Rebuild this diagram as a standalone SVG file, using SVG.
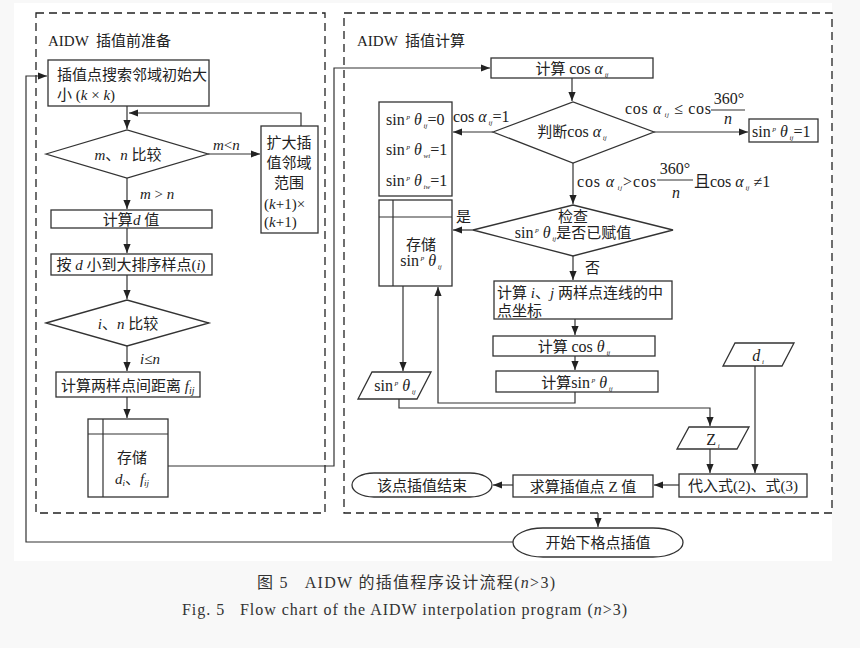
<svg xmlns="http://www.w3.org/2000/svg" width="860" height="648" viewBox="0 0 860 648" xml:space="preserve">
<defs>
<marker id="ah" viewBox="0 0 10 10" refX="10" refY="5" markerWidth="9" markerHeight="9" markerUnits="userSpaceOnUse" orient="auto"><path d="M0,1 L10,5 L0,9 Z" fill="#222"/></marker>
<style>
.b{fill:#fff;stroke:#333;stroke-width:1.3}
.l{fill:none;stroke:#333;stroke-width:1.2}
.a{fill:none;stroke:#333;stroke-width:1.2;marker-end:url(#ah)}
.dash{fill:none;stroke:#222;stroke-width:1.3;stroke-dasharray:8,5}
text{font-family:"Liberation Serif","Noto Sans CJK SC",serif;font-size:15px;fill:#222;white-space:pre}
.c{text-anchor:middle}
.i{font-style:italic}
.m{font-size:16px}
.s{font-size:7px;font-style:italic}
.cap{font-size:16px;fill:#333}
</style>
</defs>
<rect x="0" y="0" width="860" height="648" fill="#f8f8f8"/>
<rect x="14" y="3" width="818" height="558" fill="#fff"/>

<g id="panels">
<rect class="dash" x="36" y="13" width="289" height="500"/>
<text x="48" y="46">AIDW  插值前准备</text>
<rect class="dash" x="344" y="13" width="488" height="500"/>
<text x="357" y="46">AIDW  插值计算</text>
</g>

<g id="connectors">
<path class="a" d="M127,106 V129"/>
<path class="a" d="M301,126 V113 H129"/>
<path class="a" d="M208,154 H260"/>
<path class="a" d="M127,178 V209"/>
<path class="a" d="M127,228 V253"/>
<path class="a" d="M127,275 V299"/>
<path class="a" d="M127,346 V371"/>
<path class="a" d="M127,397 V418"/>
<path class="a" d="M168,466 H334 V68 H490"/>
<path class="a" d="M572,78 V101"/>
<path class="a" d="M493,132 H453"/>
<path class="a" d="M654,132 H748"/>
<path class="a" d="M573,163 V204"/>
<path class="a" d="M473,230 H453"/>
<path class="a" d="M573,256 V280"/>
<path class="a" d="M575,319 V335"/>
<path class="a" d="M575,356 V370"/>
<path class="a" d="M575,392 V403 H438 V287"/>
<path class="a" d="M403,286 V371"/>
<path class="a" d="M399,399 V408 H710 V426"/>
<path class="a" d="M710,449 V473"/>
<path class="a" d="M755,366 V473"/>
<path class="a" d="M679,485 H654"/>
<path class="a" d="M513,485 H493"/>
<path class="a" d="M598,513 V527"/>
<path class="a" d="M513,542 H26 V76 H47"/>
</g>

<g id="n1">
<rect class="b" x="48" y="60" width="161" height="46"/>
<text x="57" y="80">插值点搜索邻域初始大</text>
<text x="57" y="100">小 (<tspan class="i">k</tspan> × <tspan class="i">k</tspan>)</text>
</g>
<g id="n2">
<polygon class="b" points="46,154 127,130 208,154 127,178"/>
<text class="c" x="128" y="160"><tspan class="i">m</tspan>、<tspan class="i">n</tspan> 比较</text>
<text x="213" y="150" font-size="14"><tspan class="i">m</tspan>&lt;<tspan class="i">n</tspan></text>
<text x="140" y="199" font-size="14"><tspan class="i">m</tspan> &gt; <tspan class="i">n</tspan></text>
</g>
<g id="n3">
<rect class="b" x="261" y="126" width="57" height="107"/>
<text class="c" x="289" y="148">扩大插</text>
<text class="c" x="289" y="168">值邻域</text>
<text class="c" x="289" y="188">范围</text>
<text x="264" y="209" font-size="14">(<tspan class="i">k</tspan>+1)×</text>
<text x="264" y="227" font-size="14">(<tspan class="i">k</tspan>+1)</text>
</g>
<g id="n4">
<rect class="b" x="51" y="210" width="161" height="18"/>
<text class="c" x="131" y="225">计算<tspan class="i">d</tspan> 值</text>
</g>
<g id="n5">
<rect class="b" x="51" y="254" width="161" height="21"/>
<text class="c" x="131" y="270">按 <tspan class="i">d</tspan> 小到大排序样点(<tspan class="i">i</tspan>)</text>
</g>
<g id="n6">
<polygon class="b" points="46,323 127,300 209,323 127,346"/>
<text class="c" x="128" y="329"><tspan class="i">i</tspan>、<tspan class="i">n</tspan> 比较</text>
<text x="140" y="364" font-size="14"><tspan class="i">i</tspan>≤<tspan class="i">n</tspan></text>
</g>
<g id="n7">
<rect class="b" x="56" y="372" width="144" height="25"/>
<text x="61" y="391">计算两样点间距离 <tspan class="i">f<tspan font-size="10" dy="3">ij</tspan></tspan></text>
</g>
<g id="n8">
<rect class="b" x="88" y="419" width="80" height="78"/>
<path class="l" d="M103,419 V497 M88,434 H168"/>
<text class="c" x="132" y="463">存储</text>
<text class="c" x="132" y="484"><tspan class="i">d<tspan font-size="9" dy="2">i</tspan></tspan><tspan dy="-2">、</tspan><tspan class="i">f<tspan font-size="9" dy="2">ij</tspan></tspan></text>
</g>

<g id="r1">
<rect class="b" x="491" y="58" width="162" height="20"/>
<text class="c" x="572" y="74">计算 <tspan class="m">cos </tspan><tspan class="i m">α</tspan><tspan class="s" dy="3"> ij</tspan></text>
</g>
<g id="r2">
<polygon class="b" points="493,132 573,102 654,132 573,163"/>
<text class="c" x="572" y="137">判断<tspan class="m">cos </tspan><tspan class="i m">α</tspan><tspan class="s" dy="3"> ij</tspan></text>
<text class="m" x="453" y="122">cos <tspan class="i">α</tspan><tspan class="s" dy="3"> ij</tspan><tspan dy="-3">=1</tspan></text>
<text class="m" x="625" y="114" textLength="86" lengthAdjust="spacing">cos <tspan class="i">α</tspan><tspan class="s" dy="3"> ij</tspan><tspan dy="-3"> ≤ cos</tspan></text>
<text class="c m" x="729" y="104">360°</text>
<path class="l" d="M711,110 H745"/>
<text class="c i m" x="728" y="124">n</text>
<text class="m" x="577" y="187" textLength="79" lengthAdjust="spacing">cos <tspan class="i">α</tspan><tspan class="s" dy="3"> ij</tspan><tspan dy="-3">&gt;cos</tspan></text>
<text class="c m" x="675" y="174">360°</text>
<path class="l" d="M657,180 H693"/>
<text class="c i m" x="676" y="198">n</text>
<text class="m" x="694" y="187">且cos <tspan class="i">α</tspan><tspan class="s" dy="3"> ij</tspan><tspan dy="-3"> ≠1</tspan></text>
</g>
<g id="r3">
<rect class="b" x="379" y="102" width="73" height="94"/>
<text class="m" x="386" y="125">sin<tspan class="s" dy="-6"> p</tspan><tspan class="i" dy="6"> θ</tspan><tspan class="s" dy="3"> ij</tspan><tspan dy="-3">=0</tspan></text>
<text class="m" x="386" y="155">sin<tspan class="s" dy="-6"> p</tspan><tspan class="i" dy="6"> θ</tspan><tspan class="s" dy="3"> wi</tspan><tspan dy="-3">=1</tspan></text>
<text class="m" x="386" y="186">sin<tspan class="s" dy="-6"> p</tspan><tspan class="i" dy="6"> θ</tspan><tspan class="s" dy="3"> iw</tspan><tspan dy="-3">=1</tspan></text>
</g>
<g id="r4">
<rect class="b" x="749" y="119" width="69" height="23"/>
<text class="m" x="752" y="137">sin<tspan class="s" dy="-6"> p</tspan><tspan class="i" dy="6"> θ</tspan><tspan class="s" dy="3"> ij</tspan><tspan dy="-3">=1</tspan></text>
</g>
<g id="r5">
<polygon class="b" points="473,230 573,205 673,230 573,256"/>
<text class="c" x="573" y="222">检查</text>
<text class="c" x="573" y="238"><tspan class="m">sin</tspan><tspan class="s" dy="-6"> p</tspan><tspan class="i m" dy="6"> θ</tspan><tspan class="s" dy="3"> ij</tspan><tspan dy="-3">是否已赋值</tspan></text>
<text x="456" y="222">是</text>
<text x="585" y="273">否</text>
</g>
<g id="r6">
<rect class="b" x="379" y="200" width="73" height="86"/>
<path class="l" d="M393,200 V286 M379,217 H452"/>
<text class="c" x="421" y="250">存储</text>
<text class="c m" x="421" y="266">sin<tspan class="s" dy="-6"> p</tspan><tspan class="i" dy="6"> θ</tspan><tspan class="s" dy="3"> ij</tspan></text>
</g>
<g id="r7">
<rect class="b" x="494" y="281" width="178" height="38"/>
<text x="497" y="298">计算<tspan class="i"> i</tspan>、<tspan class="i">j</tspan> 两样点连线的中</text>
<text x="497" y="316">点坐标</text>
</g>
<g id="r8">
<rect class="b" x="493" y="336" width="162" height="20"/>
<text class="c" x="574" y="352">计算 <tspan class="m">cos </tspan><tspan class="i m">θ</tspan><tspan class="s" dy="3"> ij</tspan></text>
</g>
<g id="r9">
<rect class="b" x="496" y="371" width="162" height="21"/>
<text class="c" x="577" y="388">计算<tspan class="m">sin</tspan><tspan class="s" dy="-6"> p</tspan><tspan class="i m" dy="6"> θ</tspan><tspan class="s" dy="3"> ij</tspan></text>
</g>
<g id="r10">
<polygon class="b" points="372,372 431,372 417,399 358,399"/>
<text class="c m" x="395" y="391">sin<tspan class="s" dy="-6"> p</tspan><tspan class="i" dy="6"> θ</tspan><tspan class="s" dy="3"> ij</tspan></text>
</g>
<g id="r11">
<polygon class="b" points="735,343 794,343 782,366 723,366"/>
<text class="c m" x="758" y="361"><tspan class="i">d</tspan><tspan class="s" dy="3"> i</tspan></text>
</g>
<g id="r12">
<polygon class="b" points="689,427 749,427 737,449 677,449"/>
<text class="c m" x="713" y="445">Z<tspan class="s" dy="3"> i</tspan></text>
</g>
<g id="r13">
<rect class="b" x="679" y="474" width="128" height="23"/>
<text class="c" x="743" y="491">代入式(2)、式(3)</text>
</g>
<g id="r14">
<rect class="b" x="513" y="475" width="140" height="22"/>
<text class="c" x="583" y="492">求算插值点 Z 值</text>
</g>
<g id="r15">
<rect class="b" x="352" y="473" width="140" height="24" rx="22" ry="12"/>
<text class="c" x="422" y="491">该点插值结束</text>
</g>
<g id="r16">
<rect class="b" x="513" y="528" width="170" height="29" rx="30" ry="14.5"/>
<text class="c" x="598" y="548">开始下格点插值</text>
</g>

<g id="caption">
<text class="cap" x="257" y="588" textLength="298" lengthAdjust="spacing">图 5   AIDW 的插值程序设计流程(<tspan class="i">n</tspan>&gt;3)</text>
<text class="cap" x="182" y="615" textLength="445" lengthAdjust="spacing">Fig. 5   Flow chart of the AIDW interpolation program (<tspan class="i">n</tspan>&gt;3)</text>
</g>
</svg>
